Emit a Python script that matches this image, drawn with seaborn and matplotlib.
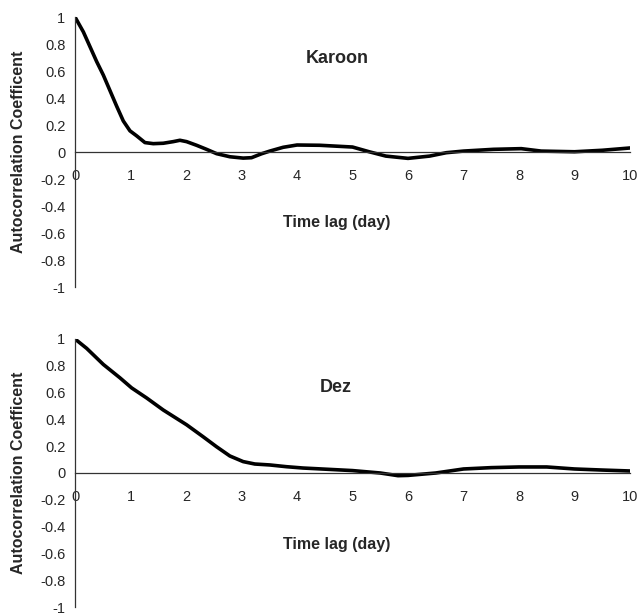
import matplotlib
matplotlib.use("Agg")
import matplotlib.pyplot as plt
import seaborn as sns
import pandas as pd

# Karoon autocorrelation
karoon_lag = [0, 0.15, 0.27, 0.39, 0.51, 0.63, 0.75, 0.87, 0.99, 1.11, 1.26, 1.41, 1.59, 1.77, 1.89,
              2.01, 2.19, 2.37, 2.55, 2.79, 3.03, 3.18, 3.36, 3.51, 3.75, 4.0, 4.41, 5.0, 5.3, 5.6,
              6.0, 6.39, 6.69, 7.0, 7.54, 8.04, 8.4, 9.0, 9.5, 10.0]
karoon_acf = [1.0, 0.89, 0.78, 0.67, 0.57, 0.455, 0.34, 0.23, 0.157, 0.12, 0.07, 0.062, 0.065, 0.077, 0.087,
              0.077, 0.05, 0.02, -0.012, -0.035, -0.045, -0.042, -0.013, 0.007, 0.035, 0.052, 0.05, 0.037, 0.002, -0.03,
              -0.047, -0.03, -0.005, 0.007, 0.02, 0.025, 0.007, 0.002, 0.013, 0.03]

# Dez autocorrelation
dez_lag = [0, 0.21, 0.51, 0.81, 1.02, 1.29, 1.59, 2.01, 2.31, 2.55, 2.79, 3.03, 3.24, 3.51, 3.81, 4.11,
           4.35, 5.0, 5.5, 5.82, 6.0, 6.5, 7.0, 7.5, 8.0, 8.5, 9.0, 9.5, 10.0]
dez_acf = [1.0, 0.93, 0.81, 0.71, 0.635, 0.56, 0.47, 0.36, 0.27, 0.196, 0.127, 0.085, 0.067, 0.06, 0.047, 0.037,
           0.032, 0.018, 0.0, -0.02, -0.018, 0.0, 0.03, 0.04, 0.045, 0.045, 0.03, 0.022, 0.015]

titles = ["Karoon", "Dez"]
x_ticks = list(range(0, 11))
y_ticks = [1, 0.8, 0.6, 0.4, 0.2, 0, -0.2, -0.4, -0.6, -0.8, -1]
y_tick_labels = ["1", "0.8", "0.6", "0.4", "0.2", "0", "-0.2", "-0.4", "-0.6", "-0.8", "-1"]

sns.set_style("white")
plt.rcParams["font.family"] = ["Liberation Sans", "DejaVu Sans"]

fig = plt.figure(figsize=(6.39, 6.15), dpi=100)
ax1 = fig.add_axes([0.1174, 0.5333, 0.8685, 0.439])
ax2 = fig.add_axes([0.1174, 0.0130, 0.8685, 0.4358])

datasets = [(karoon_lag, karoon_acf), (dez_lag, dez_acf)]
title_pos = [(4.72, 0.69), (4.7, 0.64)]
xlab_pos = [(4.72, -0.52), (4.72, -0.53)]

for ax, (lag, acf), title, tp, xp in zip([ax1, ax2], datasets, titles, title_pos, xlab_pos):
    df = pd.DataFrame({"lag": lag, "acf": acf})
    sns.lineplot(data=df, x="lag", y="acf", ax=ax, color="black", linewidth=2.6)
    ax.set_xlim(0, 10)
    ax.set_ylim(-1, 1)
    ax.spines["top"].set_visible(False)
    ax.spines["right"].set_visible(False)
    ax.spines["bottom"].set_position(("data", 0))
    for s in ["left", "bottom"]:
        ax.spines[s].set_color("#333333")
        ax.spines[s].set_linewidth(0.9)
    ax.set_xticks(x_ticks)
    ax.set_xticklabels([str(t) for t in x_ticks], fontsize=10.5)
    ax.set_yticks(y_ticks)
    ax.set_yticklabels(y_tick_labels, fontsize=10.5)
    ax.tick_params(axis="both", direction="out", length=4, width=0.9, color="#333333", pad=3)
    ax.tick_params(axis="x", pad=8)
    ax.set_xlabel("")
    ax.set_ylabel("Autocorrelation Coefficent", fontsize=11.5, fontweight="bold")
    ax.yaxis.set_label_coords(-0.088, 0.5)
    ax.text(tp[0], tp[1], title, fontsize=13, fontweight="bold", ha="center", va="center")
    ax.text(xp[0], xp[1], "Time lag (day)", fontsize=11.5, fontweight="bold", ha="center", va="center")
    ax.patch.set_alpha(0)

fig.savefig("out.png", dpi=100)
